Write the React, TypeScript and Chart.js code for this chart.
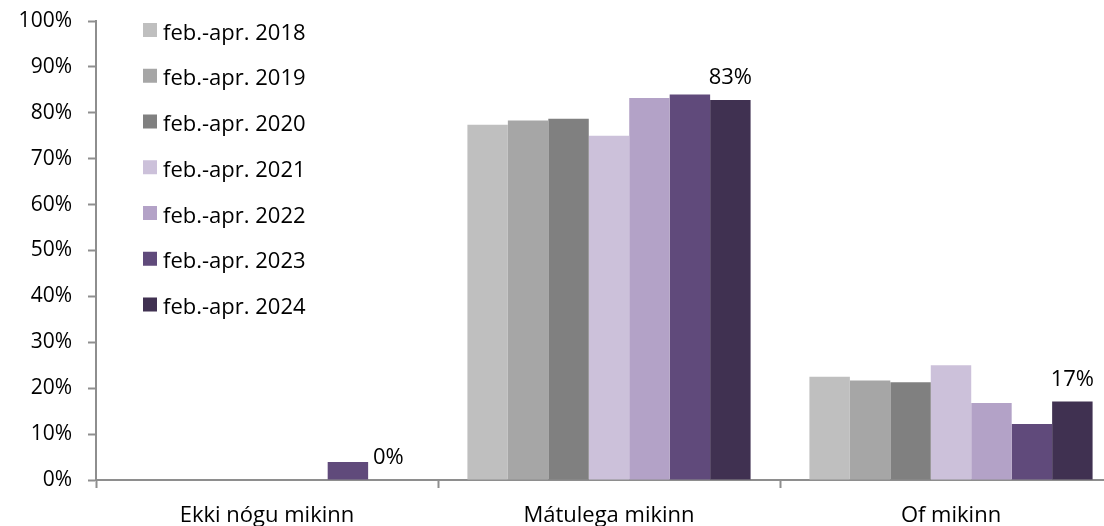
import React, { useEffect, useRef } from "react";
import { Chart, registerables } from "chart.js";

Chart.register(...registerables);

const categories = ["Ekki nógu mikinn", "Mátulega mikinn", "Of mikinn"];
const seriesLabels = [
  "feb.-apr. 2018",
  "feb.-apr. 2019",
  "feb.-apr. 2020",
  "feb.-apr. 2021",
  "feb.-apr. 2022",
  "feb.-apr. 2023",
  "feb.-apr. 2024",
];
const v2018 = [0, 77.4, 22.5];
const v2019 = [0, 78.3, 21.7];
const v2020 = [0, 78.7, 21.3];
const v2021 = [0, 75.0, 25.0];
const v2022 = [0, 83.2, 16.8];
const v2023 = [3.9, 84.0, 12.2];
const v2024 = [0, 82.8, 17.1];
const seriesValues = [v2018, v2019, v2020, v2021, v2022, v2023, v2024];
const seriesColors = ["#BFBFBF", "#A6A6A6", "#808080", "#CCC1DA", "#B3A2C7", "#604A7B", "#403151"];
const yTicks = [0, 10, 20, 30, 40, 50, 60, 70, 80, 90, 100];

const FONT = "'Open Sans', 'DejaVu Sans', sans-serif";
const AXIS_COLOR = "#8E8E8E";

const legendPlugin = {
  id: "customLegend",
  afterDraw(chart: any) {
    const ctx = chart.ctx;
    ctx.save();
    ctx.font = `22px ${FONT}`;
    ctx.textAlign = "left";
    ctx.textBaseline = "alphabetic";
    chart.data.datasets.forEach((ds: any, i: number) => {
      const cy = 30 + i * 45.75;
      ctx.fillStyle = ds.backgroundColor;
      ctx.fillRect(143, cy - 7, 14, 14);
      ctx.fillStyle = "#000";
      ctx.fillText(ds.label, 163, cy + 9.5);
    });
    ctx.restore();
  },
};

const dataLabelPlugin = {
  id: "lastSeriesLabels",
  afterDatasetsDraw(chart: any) {
    const ctx = chart.ctx;
    const idx = chart.data.datasets.length - 1;
    const meta = chart.getDatasetMeta(idx);
    const ds = chart.data.datasets[idx];
    ctx.save();
    ctx.font = `22px ${FONT}`;
    ctx.textAlign = "center";
    ctx.textBaseline = "alphabetic";
    ctx.fillStyle = "#000";
    meta.data.forEach((bar: any, j: number) => {
      const v = ds.data[j];
      ctx.fillText(`${Math.round(v)}%`, bar.x, bar.y - 16);
    });
    ctx.restore();
  },
};

export default function App() {
  const ref = useRef<HTMLCanvasElement | null>(null);

  useEffect(() => {
    if (!ref.current) return;
    const chart = new Chart(ref.current, {
      type: "bar",
      data: {
        labels: categories,
        datasets: seriesLabels.map((label, i) => ({
          label,
          data: seriesValues[i],
          backgroundColor: seriesColors[i],
          borderWidth: 0,
          categoryPercentage: 0.828,
          barPercentage: 1,
        })),
      },
      options: {
        responsive: false,
        animation: false,
        devicePixelRatio: 1,
        layout: { padding: { top: 21, right: 8, left: 0, bottom: 0 } },
        plugins: {
          legend: { display: false },
          tooltip: { enabled: false },
          title: { display: false },
        },
        scales: {
          x: {
            offset: true,
            grid: {
              offset: true,
              drawOnChartArea: false,
              drawTicks: true,
              tickLength: 8,
              tickWidth: 2,
              color: AXIS_COLOR,
            },
            border: { display: true, color: AXIS_COLOR, width: 2 },
            ticks: {
              color: "#000",
              font: { family: FONT, size: 22 },
              padding: 15,
              maxRotation: 0,
              autoSkip: false,
            },
            afterFit(scale: any) {
              scale.height = 60;
              scale.paddingLeft = 0;
              scale.paddingRight = 0;
            },
          },
          y: {
            min: 0,
            max: 100,
            afterBuildTicks(scale: any) {
              scale.ticks = yTicks.map((v) => ({ value: v }));
            },
            grid: {
              drawOnChartArea: false,
              drawTicks: true,
              tickLength: 8,
              tickWidth: 2,
              color: AXIS_COLOR,
            },
            border: { display: true, color: AXIS_COLOR, width: 2 },
            ticks: {
              color: "#000",
              font: { family: FONT, size: 21 },
              padding: 16,
              callback: (v: any) => `${v}%`,
            },
            afterFit(scale: any) {
              scale.width = 96;
              scale.paddingTop = 0;
              scale.paddingBottom = 0;
            },
          },
        },
      },
      plugins: [legendPlugin, dataLabelPlugin],
    });
    return () => chart.destroy();
  }, []);

  return (
    <div
      style={{
        position: "fixed",
        left: 0,
        top: 0,
        width: 1104,
        height: 526,
        overflow: "hidden",
        background: "#fff",
      }}
    >
      <canvas ref={ref} width={1130} height={540} style={{ width: 1130, height: 540, display: "block" }} />
    </div>
  );
}
